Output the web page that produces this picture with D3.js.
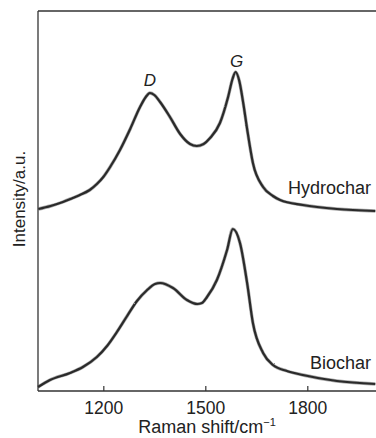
<!DOCTYPE html>
<html>
<head>
<meta charset="utf-8">
<script src="https://cdn.jsdelivr.net/npm/d3@7"></script>
<style>
  html, body { margin: 0; padding: 0; background: #fff; }
  svg { display: block; }
  text { font-family: "Liberation Sans", Arial, Helvetica, sans-serif; fill: #222; }
</style>
</head>
<body>
<svg id="chart" width="376" height="438"></svg>
<script>
// Raman shift (cm^-1) and intensity (a.u., offset for stacking)
const hydroShift = [1009, 1045, 1081, 1110, 1131, 1160, 1181, 1200, 1220, 1249, 1279, 1308, 1325, 1337, 1350, 1367, 1396, 1426, 1455, 1475, 1495, 1514, 1543, 1567, 1580, 1589, 1600, 1612, 1623, 1640, 1670, 1699, 1720, 1787, 1887, 2000];
const hydroInt   = [182, 185, 189, 193, 196, 201, 207, 214, 224, 241, 262, 284, 294, 298, 296, 289, 274, 257, 247, 245, 247, 253, 268, 294, 312, 319, 310, 287, 262, 228, 204, 195, 191, 186, 182, 180];

const bioShift = [1008, 1043, 1102, 1140, 1181, 1211, 1240, 1270, 1299, 1329, 1352, 1367, 1405, 1446, 1476, 1490, 1505, 1534, 1564, 1581, 1602, 1623, 1640, 1670, 1699, 1740, 1787, 1887, 2000];
const bioInt   = [4, 11, 18, 24, 34, 45, 59, 75, 90, 101, 107, 108, 103, 91, 87, 88, 94, 111, 141, 162, 148, 108, 68, 38, 26, 20, 16, 10, 7];

const xTicks = [1200, 1500, 1800];
const seriesLabels = ["Hydrochar", "Biochar"];
const peakLabels = ["D", "G"];
const peakShift = [1337, 1592];
const peakInt = [305, 324];

const svg = d3.select("#chart");
const mLeft = 38, mTop = 11, mBottom = 391, mRight = 376;

const x = d3.scaleLinear().domain([1007, 2000]).range([37.7, 375.3]);
const y = d3.scaleLinear().domain([0, 380]).range([mBottom, mTop]);

// subtle roughness so the traces look like measured spectra
const defs = svg.append("defs");
const f = defs.append("filter").attr("id", "rough").attr("x", "-5%").attr("y", "-5%").attr("width", "110%").attr("height", "110%");
f.append("feTurbulence").attr("type", "fractalNoise").attr("baseFrequency", 0.9).attr("numOctaves", 1).attr("seed", 3).attr("result", "noise");
f.append("feDisplacementMap").attr("in", "SourceGraphic").attr("in2", "noise").attr("scale", 1.6)
  .attr("xChannelSelector", "R").attr("yChannelSelector", "G");

// frame
svg.append("line").attr("x1", mLeft).attr("x2", mLeft).attr("y1", mTop).attr("y2", mBottom)
  .attr("stroke", "#333").attr("stroke-width", 1.3);
svg.append("line").attr("x1", mLeft).attr("x2", mRight).attr("y1", mTop).attr("y2", mTop)
  .attr("stroke", "#333").attr("stroke-width", 1.3);

// x axis
const xAxis = d3.axisBottom(x).tickValues(xTicks).tickFormat(d3.format("d"))
  .tickSizeInner(-5).tickSizeOuter(0).tickPadding(11);
const gx = svg.append("g").attr("transform", `translate(0,${mBottom})`).call(xAxis);
gx.select(".domain").attr("stroke", "#333").attr("stroke-width", 1.3).attr("d", `M${mLeft},0H${mRight}`);
gx.selectAll(".tick line").attr("stroke", "#333").attr("stroke-width", 1.2);
gx.selectAll(".tick text").attr("font-size", 17.5).attr("fill", "#222")
  .style("font-family", "'Liberation Sans', Arial, sans-serif");

// lines
const line = d3.line().x(d => x(d[0])).y(d => y(d[1])).curve(d3.curveMonotoneX);
const hydro = hydroShift.map((s, i) => [s, hydroInt[i]]);
const bio = bioShift.map((s, i) => [s, bioInt[i]]);
const gl = svg.append("g").attr("filter", "url(#rough)");
[hydro, bio].forEach(data => {
  gl.append("path").datum(data).attr("d", line).attr("fill", "none")
    .attr("stroke", "#555").attr("stroke-opacity", 0.5).attr("stroke-width", 3.4).attr("stroke-linejoin", "round");
  gl.append("path").datum(data).attr("d", line).attr("fill", "none")
    .attr("stroke", "#2a2a2a").attr("stroke-width", 2.2).attr("stroke-linejoin", "round");
});

// series labels
svg.append("text").attr("x", 371).attr("y", 194).attr("text-anchor", "end").attr("font-size", 18).text(seriesLabels[0]);
svg.append("text").attr("x", 371).attr("y", 369).attr("text-anchor", "end").attr("font-size", 18).text(seriesLabels[1]);

// peak labels
peakLabels.forEach((p, i) => {
  svg.append("text").attr("x", x(peakShift[i])).attr("y", y(peakInt[i]))
    .attr("text-anchor", "middle").attr("font-size", 17).attr("font-style", "italic").text(p);
});

// axis titles
const xt = svg.append("text").attr("x", 207).attr("y", 433).attr("text-anchor", "middle").attr("font-size", 18);
xt.append("tspan").text("Raman shift/cm");
xt.append("tspan").attr("font-size", 11).attr("dy", -7).text("\u22121");

svg.append("text").attr("transform", "translate(25,199) rotate(-90)").attr("text-anchor", "middle")
  .attr("font-size", 17).text("Intensity/a.u.");
</script>
</body>
</html>
